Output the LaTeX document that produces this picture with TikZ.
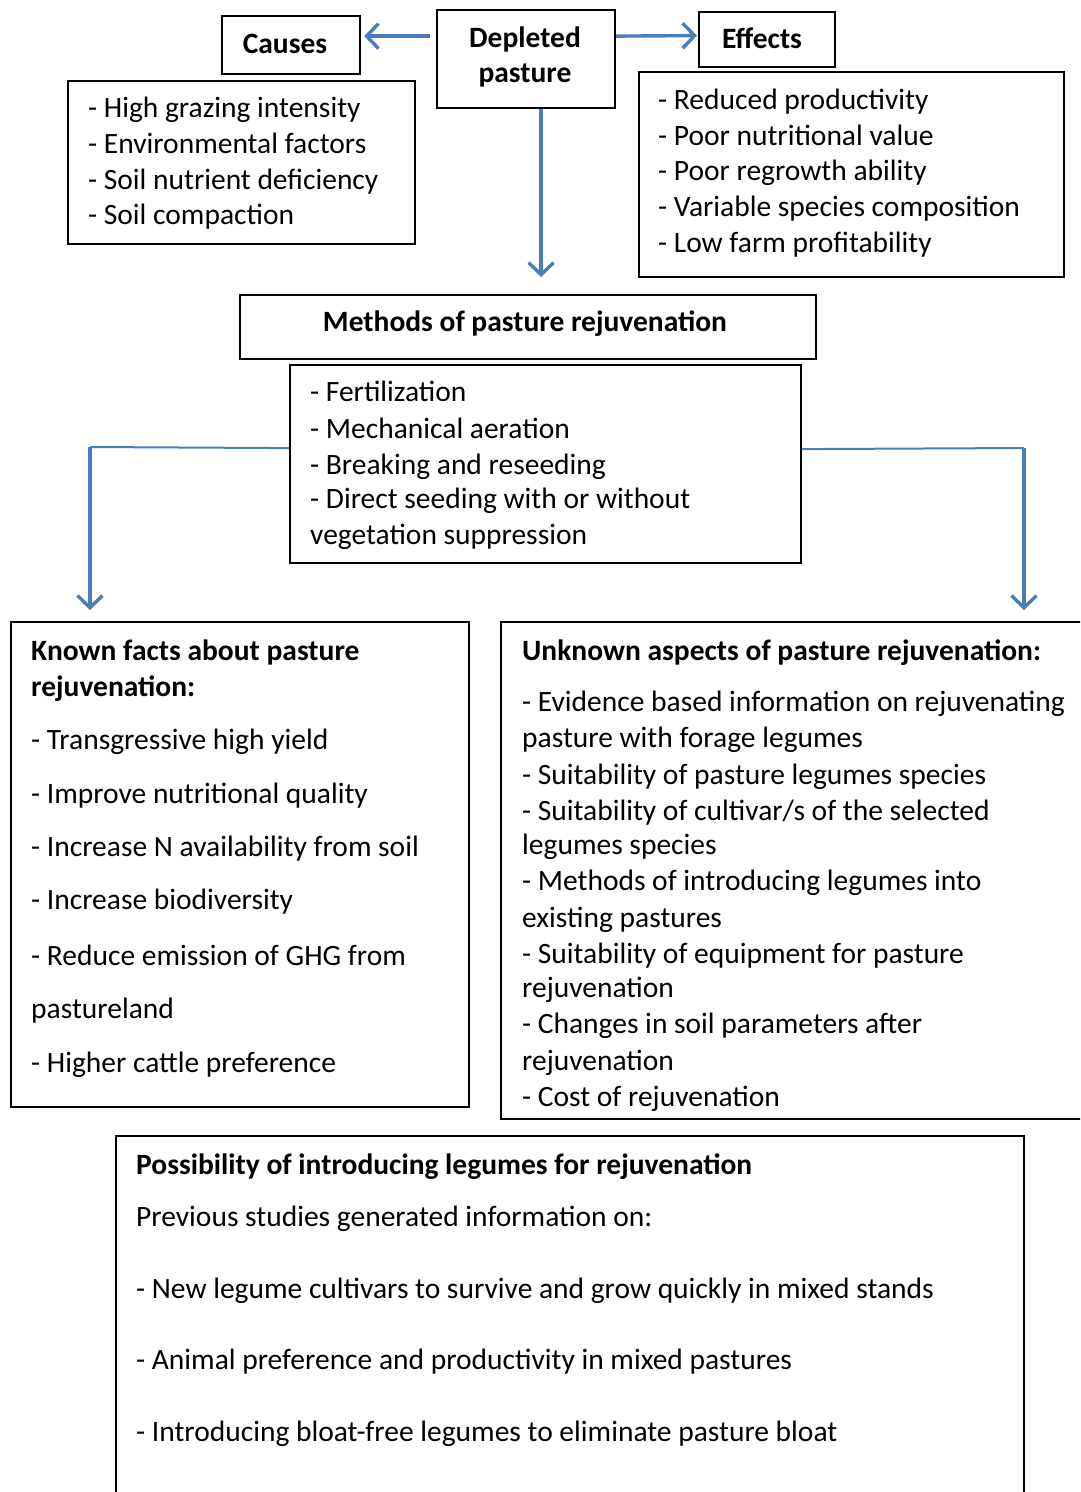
\documentclass[tikz,border=0pt]{standalone}
\usepackage{fontspec}
\setmainfont{Carlito}
\usetikzlibrary{arrows.meta}
\definecolor{arr}{HTML}{4A7EBB}
\tikzset{
  box/.style={draw=black, line width=2.2pt, inner sep=0pt, anchor=north west},
  txt/.style={anchor=base west, inner sep=0pt, yshift=-2pt, font=\fontsize{29.5}{36}\selectfont},
  btxt/.style={anchor=base, inner sep=0pt, yshift=-1pt, font=\fontsize{29.5}{36}\selectfont\bfseries},
  bltxt/.style={anchor=base west, inner sep=0pt, yshift=-2pt, font=\fontsize{29.5}{36}\selectfont\bfseries},
  conn/.style={draw=arr, line width=3.4pt, -{Straight Barb[length=12pt,width=25pt,line width=3.4pt]}},
  hline/.style={draw=arr, line width=2pt},
}
\begin{document}
\begin{tikzpicture}[x=1pt,y=-1pt]
\clip (0,0) rectangle (1080,1492);
\fill[white] (0,0) rectangle (1080,1492);

% boxes
\node[box, minimum width=138, minimum height=58] (causes) at (221,15) {};
\node[box, minimum width=178, minimum height=98] (dep) at (436,9) {};
\node[box, minimum width=136, minimum height=55] (eff) at (698,11) {};
\node[box, minimum width=347, minimum height=163] (clist) at (67,80) {};
\node[box, minimum width=425, minimum height=205] (elist) at (638,71) {};
\node[box, minimum width=576, minimum height=64] (meth) at (239,294) {};
\node[box, minimum width=511, minimum height=198] (mlist) at (289,364) {};
\node[box, minimum width=458, minimum height=485] (known) at (10,621) {};
\node[box, minimum width=600, minimum height=497] (unk) at (500,621) {};
\node[box, minimum width=908, minimum height=380] (poss) at (115,1135) {};

% titles
\node[btxt] (tcauses) at (285,52) {Causes};
\node[btxt] (tdep1) at (525,46) {Depleted};
\node[btxt] (tdep2) at (525,81) {pasture};
\node[btxt] (teff) at (762,47) {Effects};
\node[btxt] (tmeth) at (525,330) {Methods of pasture rejuvenation};

% lists
\foreach \t/\y [count=\i] in {{- High grazing intensity}/115,{- Environmental factors}/151,{- Soil nutrient deficiency}/187,{- Soil compaction}/222}
  \node[txt] (c\i) at (88,\y) {\t};
\foreach \t/\y [count=\i] in {{- Reduced productivity}/107,{- Poor nutritional value}/143,{- Poor regrowth ability}/178,{- Variable species composition}/214,{- Low farm profitability}/250}
  \node[txt] (e\i) at (658,\y) {\t};
\foreach \t/\y [count=\i] in {{- Fertilization}/399,{- Mechanical aeration}/436,{- Breaking and reseeding}/472,{- Direct seeding with or without}/506,{vegetation suppression}/542}
  \node[txt] (m\i) at (310,\y) {\t};

\node[bltxt] (kh1) at (31,658) {Known facts about pasture};
\node[bltxt] (kh2) at (31,694) {rejuvenation:};
\foreach \t/\y [count=\i] in {{- Transgressive high yield}/747,{- Improve nutritional quality}/801,{- Increase N availability from soil}/854,{- Increase biodiversity}/907,{- Reduce emission of GHG from}/963,{pastureland}/1016,{- Higher cattle preference}/1070}
  \node[txt] (k\i) at (31,\y) {\t};

\node[bltxt] (uh) at (522,658) {Unknown aspects of pasture rejuvenation:};
\foreach \t/\y [count=\i] in {{- Evidence based information on rejuvenating}/709,{pasture with forage legumes}/745,{- Suitability of pasture legumes species}/782,{- Suitability of cultivar/s of the selected}/818,{legumes species}/852,{- Methods of introducing legumes into}/888,{existing pastures}/925,{- Suitability of equipment for pasture}/961,{rejuvenation}/995,{- Changes in soil parameters after}/1031,{rejuvenation}/1068,{- Cost of rejuvenation}/1104}
  \node[txt] (u\i) at (522,\y) {\t};

\node[bltxt] (ph) at (136,1172) {Possibility of introducing legumes for rejuvenation};
\foreach \t/\y [count=\i] in {{Previous studies generated information on:}/1224,{- New legume cultivars to survive and grow quickly in mixed stands}/1296,{- Animal preference and productivity in mixed pastures}/1367,{- Introducing bloat-free legumes to eliminate pasture bloat}/1439}
  \node[txt] (p\i) at (136,\y) {\t};

% connectors
\draw[conn] ([xshift=-6pt,yshift=23pt]dep.west) -- ([xshift=3pt,yshift=9pt]causes.east);
\draw[conn] ([yshift=23pt]dep.east) -- ([xshift=-1pt,yshift=4pt]eff.west);
\draw[conn, shorten >=17pt] ([xshift=15pt]dep.south) -- ([xshift=15pt]dep.south |- meth.north);

\coordinate (lc) at (90,447);
\coordinate (rc) at (1024,448);
\draw[hline] ([yshift=16pt]mlist.west) -- (lc);
\draw[conn, shorten >=11pt] (lc) -- (lc |- known.north);
\draw[hline] ([yshift=15pt]mlist.east) -- (rc);
\draw[conn, shorten >=11pt] (rc) -- (rc |- unk.north);
\end{tikzpicture}
\end{document}
